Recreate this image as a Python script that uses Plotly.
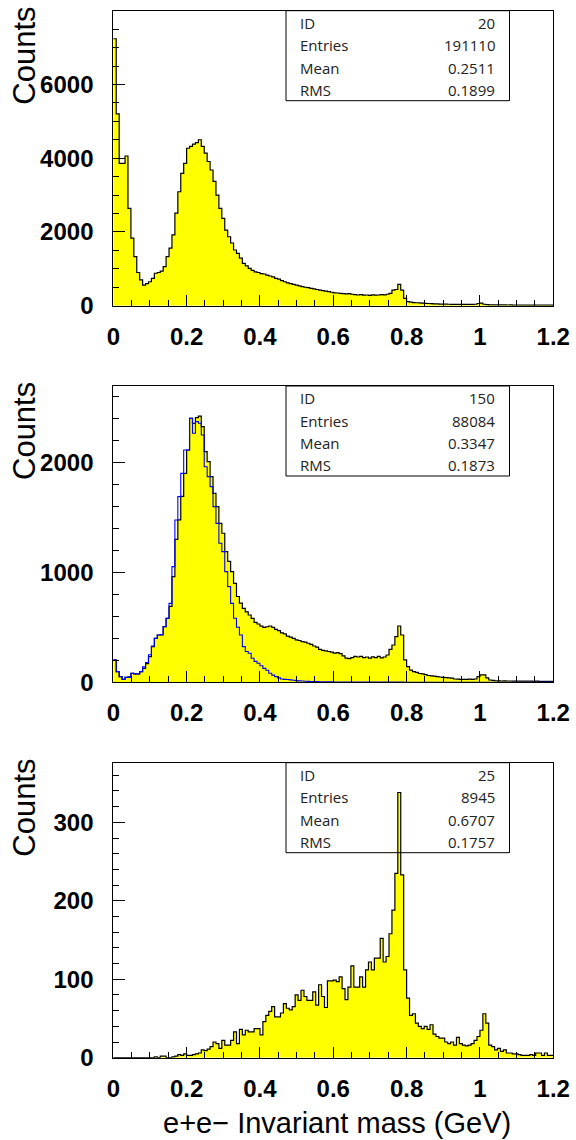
import numpy as np
import plotly.graph_objects as go

# ---------------- data ----------------
bin_edges = np.linspace(0.0, 1.2, 151)  # 150 bins, 0.008 GeV wide

counts_id20 = [
    7240, 5200, 3860, 3860, 4060, 2640, 1830, 1330, 900, 700,
    560, 600, 650, 740, 880, 900, 940, 1060, 1330, 1560,
    1920, 2510, 3090, 3590, 3860, 4270, 4320, 4380, 4420, 4500,
    4320, 4140, 3910, 3680, 3370, 3000, 2640, 2370, 2050, 1870,
    1700, 1510, 1420, 1290, 1150, 1080, 1010, 960, 920, 900,
    870, 860, 830, 805, 780, 740, 720, 680, 650, 620,
    600, 580, 560, 540, 515, 500, 490, 470, 455, 440,
    425, 410, 395, 380, 365, 350, 345, 335, 330, 320,
    330, 310, 300, 290, 300, 285, 290, 280, 295, 285,
    290, 300, 295, 310, 335, 425, 440, 580, 425, 200,
    110, 95, 85, 80, 75, 70, 63, 60, 55, 50,
    47, 45, 45, 42, 40, 38, 38, 36, 36, 35,
    35, 34, 36, 40, 60, 72, 40, 30, 25, 22,
    22, 20, 21, 20, 19, 20, 18, 19, 18, 17,
    18, 17, 16, 17, 16, 16, 15, 16, 15, 15,
]

counts_id150 = [
    203, 97, 52, 27, 45, 50, 82, 76, 76, 97,
    127, 170, 233, 324, 400, 430, 430, 506, 582, 690,
    960, 1300, 1476, 1690, 1900, 2112, 2400, 2355, 2406, 2421,
    2324, 2097, 2006, 1870, 1718, 1597, 1445, 1355, 1188, 1100,
    1006, 900, 780, 720, 673, 640, 612, 582, 545, 530,
    510, 500, 505, 512, 500, 482, 470, 450, 440, 420,
    410, 400, 385, 380, 370, 365, 355, 345, 330, 320,
    300, 290, 285, 280, 275, 265, 270, 260, 240, 220,
    215, 225, 235, 230, 235, 225, 230, 220, 232, 225,
    235, 222, 230, 248, 300, 339, 415, 512, 430, 203,
    142, 110, 97, 90, 80, 76, 70, 62, 58, 56,
    52, 48, 45, 43, 40, 38, 30, 28, 27, 27,
    26, 28, 27, 30, 52, 67, 67, 40, 21, 18,
    14, 13, 12, 13, 12, 12, 11, 12, 11, 10,
    11, 10, 10, 9, 10, 9, 9, 8, 9, 8,
]

counts_id150_blue = [
    203, 97, 52, 27, 45, 45, 82, 76, 76, 97,
    140, 180, 250, 330, 400, 430, 435, 506, 582, 718,
    1052, 1476, 1688, 1900, 2112, 2112, 2400, 2264, 2370, 2355,
    2248, 1960, 1870, 1779, 1597, 1445, 1264, 1188, 1006, 870,
    718, 582, 500, 430, 324, 280, 264, 218, 190, 173,
    150, 127, 110, 82, 65, 52, 40, 30, 27, 25,
    22, 18, 15, 13, 12, 10, 8, 7, 6, 6,
    5, 5, 4, 4, 4, 3, 3, 3, 3, 2,
    2, 2, 2, 2, 2, 2, 2, 2, 2, 2,
    2, 2, 2, 2, 2, 2, 2, 2, 2, 1,
    1, 1, 1, 1, 1, 1, 1, 1, 1, 1,
    1, 1, 1, 1, 1, 1, 1, 1, 1, 1,
    1, 1, 1, 1, 1, 1, 1, 1, 1, 1,
    1, 1, 1, 1, 1, 1, 1, 1, 1, 1,
    1, 1, 1, 1, 1, 1, 1, 1, 1, 1,
]

counts_id25 = [
    0, 0, 0, 0, 0, 0, 0, 0, 0, 0,
    0, 0, 0, 0, 1, 0, 2, 2, 0, 0,
    1, 2, 4, 3, 5, 3, 3, 4, 5, 6,
    10, 9, 11, 14, 20, 18, 12, 22, 16, 16,
    22, 33, 18, 36, 29, 35, 33, 33, 37, 37,
    29, 46, 54, 59, 65, 52, 52, 57, 69, 63,
    61, 65, 80, 73, 86, 78, 73, 73, 84, 67,
    93, 78, 64, 98, 98, 99, 97, 103, 88, 74,
    90, 117, 90, 90, 103, 90, 112, 122, 112, 127,
    127, 152, 122, 129, 158, 188, 235, 338, 233, 112,
    76, 54, 56, 44, 40, 37, 40, 36, 42, 30,
    27, 25, 25, 20, 18, 20, 16, 26, 18, 16,
    15, 16, 18, 22, 27, 35, 56, 44, 16, 14,
    10, 12, 8, 10, 6, 6, 5, 5, 4, 3,
    3, 3, 4, 3, 6, 6, 3, 6, 3, 3,
]

stat_labels = ["ID", "Entries", "Mean", "RMS"]
stat_ids = ["20", "150", "25"]
stat_entries = ["191110", "88084", "8945"]
stat_means = ["0.2511", "0.3347", "0.6707"]
stat_rms = ["0.1899", "0.1873", "0.1757"]

y_max = [8000, 2694, 376]
y_major = [2000, 1000, 100]
y_minor = [500, 200, 20]
x_major = 0.2
x_minor = 0.05

y_title = "Counts"
x_title = "e+e\u2212 Invariant mass (GeV)"

# ---------------- layout geometry (pixels) ----------------
W, H = 576, 1140
plot_left, plot_right = 113.3, 553.3
panel_top = [10.7, 386.0, 762.7]
panel_bot = [305.7, 682.3, 1057.7]
box_left, box_right = 286.0, 509.5
box_h = 90.0
txt_left, txt_right = 297.5, 497.0


def fx(p):
    return p / W


def fy(p):
    return 1 - p / H


tick_font = dict(family="Liberation Sans, Arial, sans-serif", size=24,
                 color="black", weight="bold")
ytitle_font = dict(family="Liberation Sans, Arial, sans-serif", size=31,
                   color="black")
xtitle_font = dict(family="Liberation Sans, Arial, sans-serif", size=29,
                   color="black")
stat_font = dict(family="Open Sans, DejaVu Sans, sans-serif", size=15,
                 color="#222222")

fig = go.Figure()

hists = [counts_id20, counts_id150, counts_id25]
xs = list(bin_edges)

for i, vals in enumerate(hists):
    xa = "x" if i == 0 else f"x{i+1}"
    ya = "y" if i == 0 else f"y{i+1}"
    fig.add_trace(go.Scatter(
        x=xs, y=list(vals) + [vals[-1]],
        mode="lines", line=dict(shape="hv", color="black", width=1.2),
        fill="tozeroy", fillcolor="#FFFF00",
        xaxis=xa, yaxis=ya, hoverinfo="skip", showlegend=False,
    ))
    if i == 1:
        fig.add_trace(go.Scatter(
            x=xs, y=list(counts_id150_blue) + [counts_id150_blue[-1]],
            mode="lines", line=dict(shape="hv", color="#0000FF", width=1.1),
            xaxis=xa, yaxis=ya, hoverinfo="skip", showlegend=False,
        ))

layout = dict(
    width=W, height=H,
    margin=dict(l=0, r=0, t=0, b=0, autoexpand=False),
    paper_bgcolor="white", plot_bgcolor="white",
    showlegend=False,
)

annotations = []
shapes = []

for i in range(3):
    sfx = "" if i == 0 else str(i + 1)
    ydom = [fy(panel_bot[i]), fy(panel_top[i])]
    layout["xaxis" + sfx] = dict(
        domain=[fx(plot_left), fx(plot_right)],
        range=[0, 1.2001], anchor="y" + sfx, automargin=False,
        showline=True, mirror=True, linecolor="black", linewidth=1,
        ticks="inside", ticklen=11, tickwidth=1, tickcolor="black",
        tickmode="linear", tick0=0, dtick=x_major,
        minor=dict(ticks="inside", ticklen=6, tickwidth=1,
                   tickcolor="black", dtick=x_minor, tick0=0, showgrid=False),
        showgrid=False, zeroline=False,
        tickfont=tick_font, ticklabelstandoff=9,
    )
    layout["yaxis" + sfx] = dict(
        domain=ydom, range=[0, y_max[i]], anchor="x" + sfx, automargin=False,
        showline=True, mirror=True, linecolor="black", linewidth=1,
        ticks="inside", ticklen=12, tickwidth=1, tickcolor="black",
        tickmode="linear", tick0=0, dtick=y_major[i], tickformat="d",
        minor=dict(ticks="inside", ticklen=6, tickwidth=1,
                   tickcolor="black", dtick=y_minor[i], tick0=0,
                   showgrid=False),
        showgrid=False, zeroline=False,
        tickfont=tick_font, ticklabelstandoff=14,
    )

    # "Counts" label at top of the y axis
    annotations.append(dict(
        text=y_title, xref="paper", yref="paper",
        x=fx(25), y=fy(panel_top[i] - 6), xanchor="center", yanchor="top",
        textangle=-90, showarrow=False, font=ytitle_font,
    ))

    # statistics box
    top = panel_top[i]
    shapes.append(dict(
        type="rect", xref="paper", yref="paper",
        x0=fx(box_left), x1=fx(box_right),
        y0=fy(top + box_h), y1=fy(top),
        line=dict(color="black", width=1), fillcolor="rgba(0,0,0,0)",
        layer="above",
    ))
    values = [stat_ids[i], stat_entries[i], stat_means[i], stat_rms[i]]
    for r, (lab, val) in enumerate(zip(stat_labels, values)):
        yy = fy(top + 12.2 + 22.4 * r)
        annotations.append(dict(
            text=lab, xref="paper", yref="paper", x=fx(txt_left), y=yy,
            xanchor="left", yanchor="middle", showarrow=False, font=stat_font,
        ))
        annotations.append(dict(
            text=val, xref="paper", yref="paper", x=fx(txt_right), y=yy,
            xanchor="right", yanchor="middle", showarrow=False, font=stat_font,
        ))

annotations.append(dict(
    text=x_title, xref="paper", yref="paper",
    x=fx(337), y=fy(1123), xanchor="center", yanchor="middle",
    showarrow=False, font=xtitle_font,
))

layout["annotations"] = annotations
layout["shapes"] = shapes
fig.update_layout(**layout)

fig.write_html(
    "out.html",
    config={"displayModeBar": False},
    post_script="document.body.style.margin='0';document.body.style.padding='0';"
                "document.body.style.overflow='hidden';",
)
